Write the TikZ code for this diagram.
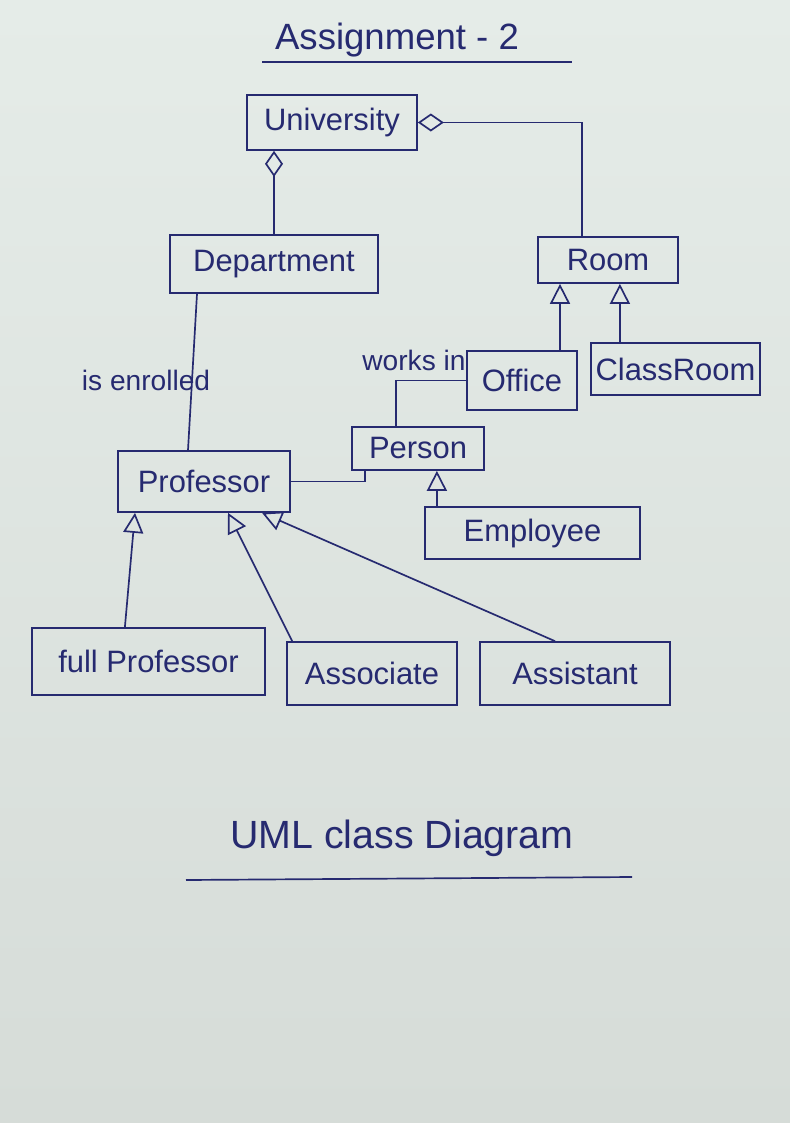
\documentclass[tikz,border=0pt]{standalone}
\usepackage{fontspec}
\setmainfont{Liberation Sans}
\usepackage{xcolor}
\usepackage{tikz}
\usetikzlibrary{arrows.meta, positioning, calc}
\definecolor{inkblue}{RGB}{38, 42, 112}
\definecolor{paper}{RGB}{229, 236, 232}
\definecolor{paperdark}{RGB}{214, 220, 216}

\begin{document}
\begin{tikzpicture}[
    x=0.25mm, y=-0.25mm,
    cls/.style={draw=inkblue, line width=1.2pt, inner sep=0pt, text=inkblue,
                font=\fontsize{22}{26}\selectfont},
    gen/.style={draw=inkblue, line width=1.2pt, -{Triangle[open, length=5mm, width=5mm]}},
    aggr/.style={draw=inkblue, line width=1.2pt, -{Diamond[open, length=6.5mm, width=4.5mm]}},
    link/.style={draw=inkblue, line width=1.2pt},
    lbl/.style={text=inkblue, font=\fontsize{20}{24}\selectfont},
    heading/.style={text=inkblue, font=\fontsize{26}{30}\selectfont}
]
    \shade[top color=paper, bottom color=paperdark] (0,0) rectangle (790,1123);
    \useasboundingbox (0,0) rectangle (790,1123);

    \node[heading] (title) at (397,40) {Assignment - 2};
    \draw[link] (262,62) -- (572,62);

    \node[cls, minimum width=42.5mm, minimum height=13.75mm] (univ) at (332,122.5) {University};
    \node[cls, minimum width=52mm, minimum height=14.5mm] (dept) at (274,264) {Department};
    \node[cls, minimum width=35mm, minimum height=11.5mm] (room) at (608,260) {Room};
    \node[cls, minimum width=27.5mm, minimum height=14.75mm] (office) at (522,380.5) {Office};
    \node[cls, minimum width=42.25mm, minimum height=13mm] (classroom) at (675.5,369) {ClassRoom};
    \node[cls, minimum width=33mm, minimum height=10.75mm] (person) at (418,448.5) {Person};
    \node[cls, minimum width=43mm, minimum height=15.25mm] (prof) at (204,481.5) {Professor};
    \node[cls, minimum width=53.75mm, minimum height=13mm] (employee) at (532.5,533) {Employee};
    \node[cls, minimum width=58.25mm, minimum height=16.75mm] (fullprof) at (148.5,661.5) {full Professor};
    \node[cls, minimum width=42.5mm, minimum height=15.75mm] (associate) at (372,673.5) {Associate};
    \node[cls, minimum width=47.5mm, minimum height=15.75mm] (assistant) at (575,673.5) {Assistant};

    \draw[aggr] (dept.north) -- (dept.north |- univ.south);
    \draw[aggr] ([xshift=-6.5mm]room.north) |- (univ.east);

    \draw[link] ([xshift=-19.25mm]dept.south) -- ([xshift=-4mm]prof.north);
    \node[lbl] (enrolled) at (146,380) {is enrolled};

    \draw[gen] ([xshift=9.5mm]office.north) -- ([xshift=9.5mm]office.north |- room.south);
    \draw[gen] ([xshift=-13.9mm]classroom.north) -- ([xshift=-13.9mm]classroom.north |- room.south);

    \draw[link] ([xshift=-5.5mm]person.north) |- (office.west);
    \node[lbl] (worksin) at (414,360) {works in};
    \draw[link] (prof.east) -| ([xshift=-13.25mm]person.south);
    \draw[gen] ([xshift=-23.9mm]employee.north) -- ([xshift=-23.9mm]employee.north |- person.south);

    \draw[gen] ([xshift=-5.9mm]fullprof.north) -- ([xshift=-17.25mm]prof.south);
    \draw[gen] ([xshift=1.5mm]associate.north west) -- ([xshift=6mm]prof.south);
    \draw[gen] ([xshift=-5mm]assistant.north) -- ([xshift=14.5mm]prof.south);

    \node[heading, font=\fontsize{28}{32}\selectfont] (caption) at (402,838) {UML class Diagram};
    \draw[link] (186,880) -- (632,877);
\end{tikzpicture}
\end{document}
